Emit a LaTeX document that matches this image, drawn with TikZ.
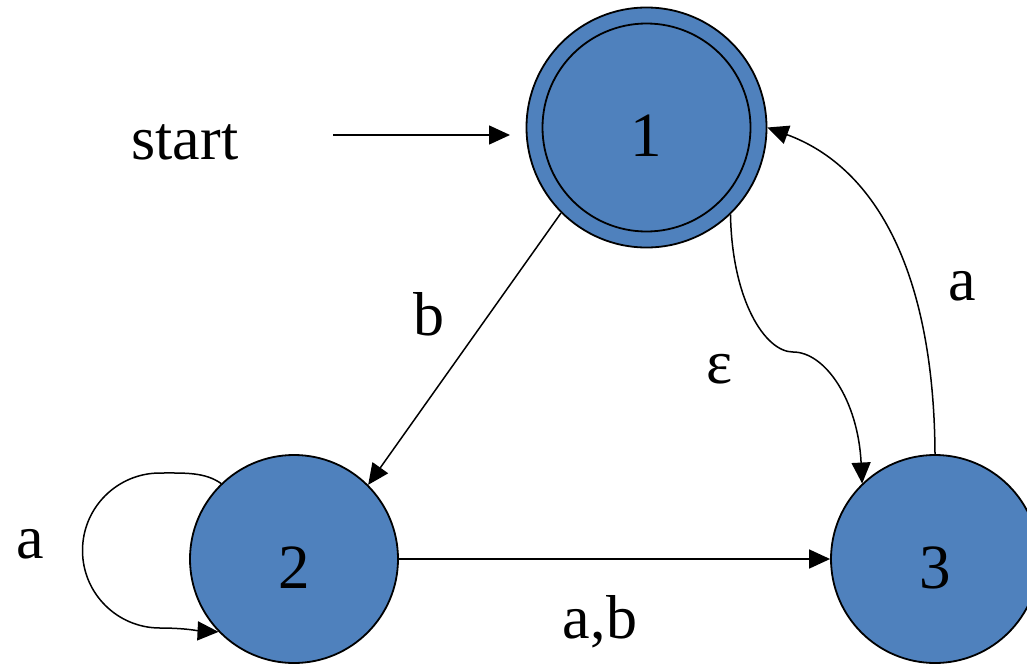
\documentclass[tikz,border=0pt]{standalone}
\usepackage{fontspec}
\setmainfont{Liberation Serif}
\usetikzlibrary{arrows.meta}
\definecolor{stateblue}{RGB}{79,129,189}
\begin{document}
\begin{tikzpicture}[x=0.5pt, y=-0.5pt,
  state/.style={circle, draw=black, line width=0.9pt, fill=stateblue,
    minimum size=104pt, inner sep=0pt, text height=29pt, text depth=0pt,
    font=\fontsize{31.5pt}{36pt}\selectfont},
  ring/.style={circle, draw=black, line width=0.9pt, inner sep=0pt},
  edge/.style={draw, line width=0.75pt, -{Triangle[length=10.5pt, width=9.5pt]}},
  lbl/.style={font=\fontsize{31pt}{36pt}\selectfont, inner sep=0pt, anchor=base}]
\clip (0,0) rectangle (1027,664);

% states
\node[state, minimum size=120pt] (s1) at (646.5,127.5) {1};
\node[ring, minimum size=104pt] (s1in) at (s1) {};
\node[state] (s2) at (294,559) {2};
\node[state] (s3) at (935,559) {3};

% start arrow
\node[lbl] (tstart) at (185,159) {start};
\coordinate (in0) at (333,135);
\coordinate (in1) at (510,135);
\draw[edge] (in0) -- (in1);

% transitions
\draw[edge] (s1.225) -- (s2.45);
\draw[edge] (s2.east) -- (s3.west);
\draw[edge] (s1.-46) .. controls (732,300) and (765,352) .. (793,352)
  .. controls (825,352) and (858,400) .. (s3.134);
\draw[edge] (s3.north) .. controls (934,276) and (878,168) .. (s1.east);
\draw[edge] (s2.134) .. controls (205,472) and (185,473) .. (160,473)
  .. controls (117.2,473) and (82.5,507.7) .. (82.5,550.5)
  .. controls (82.5,593.3) and (117.2,628) .. (160,628)
  .. controls (185,628) and (200,631) .. (s2.224);

% transition labels
\node[lbl] (tb) at (429,335) {b};
\node[lbl] (teps) at (720,383) {ε};
\node[lbl] (ta1) at (962,300) {a};
\node[lbl] (ta2) at (30,558) {a};
\node[lbl] (tab) at (600,638) {a,b};
\end{tikzpicture}
\end{document}
